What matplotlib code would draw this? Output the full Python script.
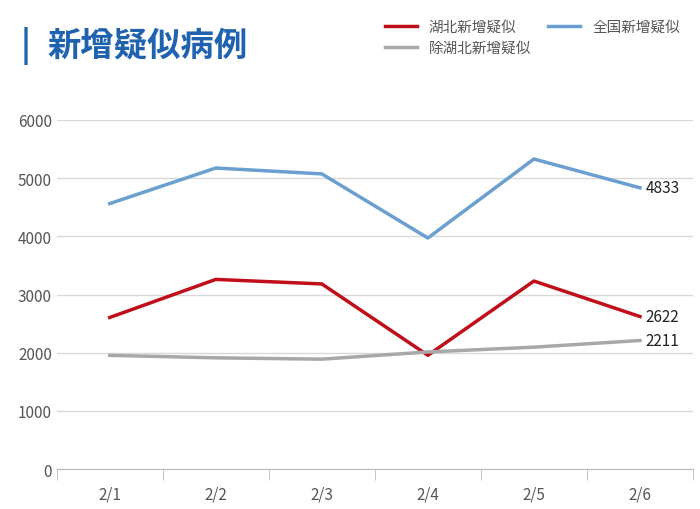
import matplotlib.pyplot as plt
from matplotlib import font_manager
from matplotlib.lines import Line2D

# pick an installed CJK font
cjk = [f for f in font_manager.findSystemFonts() if "CJK" in f or "cjk" in f.lower()]
for f in cjk:
    font_manager.fontManager.addfont(f)
names = sorted({font_manager.FontProperties(fname=f).get_name() for f in cjk})
plt.rcParams["font.family"] = "sans-serif"
plt.rcParams["font.sans-serif"] = ["Noto Sans CJK SC"] + names + ["DejaVu Sans"]

dates = ["2/1", "2/2", "2/3", "2/4", "2/5", "2/6"]
hubei = [2606, 3260, 3182, 1957, 3232, 2622]
national = [4562, 5173, 5072, 3971, 5328, 4833]
others = [1956, 1913, 1890, 2014, 2096, 2211]

red = "#c00f1b"
blue = "#6b9fcf"
grey = "#a8a8a8"

fig = plt.figure(figsize=(7, 5.1), dpi=100)
ax = fig.add_axes([0.081, 0.078, 0.909, 0.685])

x = range(len(dates))
ax.plot(x, national, color=blue, lw=2.5)
ax.plot(x, hubei, color=red, lw=2.5)
ax.plot(x, others, color=grey, lw=2.5)

for series in (national, hubei, others):
    ax.text(len(dates) - 1 + 0.05, series[-1], str(series[-1]), fontsize=11,
            va="center", ha="left", color="#222222")

ax.set_xlim(-0.5, len(dates) - 0.5)
ax.set_ylim(0, 6000)
ax.set_yticks(range(0, 6001, 1000))
ax.set_xticks(list(x))
ax.set_xticklabels(dates)
ax.set_xticks([i - 0.5 for i in range(len(dates) + 1)], minor=True)
ax.tick_params(axis="x", which="major", length=0, pad=12, labelsize=11, colors="#555555")
ax.tick_params(axis="x", which="minor", length=8, color="#bbbbbb")
ax.tick_params(axis="y", length=0, labelsize=11, colors="#555555")
ax.grid(axis="y", color="#d9d9d9", lw=1)
ax.set_axisbelow(True)
for s in ("top", "right", "left"):
    ax.spines[s].set_visible(False)
ax.spines["bottom"].set_color("#bbbbbb")

fig.text(0.03, 0.91, "|", fontsize=24, color="#1f63b0", fontweight="bold", va="center")
fig.text(0.068, 0.91, "新增疑似病例", fontsize=24, color="#1f63b0", fontweight="bold", va="center")

# column-major fill: left column red, grey; right column blue
handles = [Line2D([], [], color=red, lw=2.5), Line2D([], [], color=grey, lw=2.5),
           Line2D([], [], color=blue, lw=2.5)]
labels = ["湖北新增疑似", "除湖北新增疑似", "全国新增疑似"]
fig.legend(handles, labels, ncol=2, loc="upper right", bbox_to_anchor=(0.99, 0.985),
           frameon=False, fontsize=10.5, handlelength=2.2, columnspacing=1.2,
           labelcolor="#555555")

fig.savefig("out.png", dpi=100, facecolor="white")
